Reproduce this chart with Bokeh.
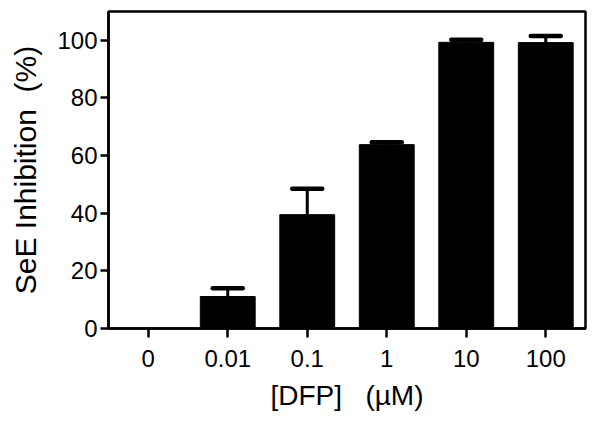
from bokeh.plotting import figure
from bokeh.models import ColumnDataSource, FactorRange, Range1d, Whisker, TeeHead, FixedTicker
from bokeh.embed import file_html
from bokeh.resources import INLINE

categories = ["0", "0.01", "0.1", "1", "10", "100"]
means = [0.0, 11.1, 39.5, 63.8, 99.3, 99.2]
upper_err = [0.0, 14.0, 48.5, 64.6, 100.2, 101.5]
y_ticks = [0, 20, 40, 60, 80, 100]

FONT = "Liberation Sans"
NB = "\u00a0"

p = figure(width=600, height=427, x_range=FactorRange(factors=categories, range_padding=0),
           y_range=Range1d(0, 110), output_backend="svg", toolbar_location=None,
           min_border_left=108, min_border_right=15, min_border_top=11, min_border_bottom=99)

src = ColumnDataSource(dict(x=categories, top=means))
p.vbar(x="x", top="top", width=0.69, source=src, fill_color="black", line_color="black")

err_src = ColumnDataSource(dict(
    x=[c for c, m in zip(categories, means) if m > 0],
    lower=[m for m in means if m > 0],
    upper=[u for u, m in zip(upper_err, means) if m > 0],
))
w = Whisker(source=err_src, base="x", lower="lower", upper="upper",
            line_color="black", line_width=3,
            upper_head=TeeHead(size=30, line_width=4.5, line_color="black", line_cap="round"),
            lower_head=None)
p.add_layout(w)

p.xgrid.grid_line_color = None
p.ygrid.grid_line_color = None
p.outline_line_color = "black"
p.outline_line_width = 2.5

p.yaxis.ticker = FixedTicker(ticks=y_ticks)
for ax in (p.xaxis[0], p.yaxis[0]):
    ax.axis_line_width = 2.5
    ax.major_tick_line_width = 2.5
    ax.major_tick_in = 0
    ax.major_tick_out = 9
    ax.minor_tick_line_color = None
    ax.major_label_text_font = FONT
    ax.major_label_text_font_size = "24px"
    ax.major_label_text_color = "black"
    ax.axis_label_text_font = FONT
    ax.axis_label_text_font_style = "normal"
    ax.axis_label_text_color = "black"

p.xaxis.axis_label_text_font_size = "28px"
p.yaxis.axis_label_text_font_size = "30px"
p.yaxis.major_tick_out = 8
p.yaxis.major_label_standoff = 3
p.xaxis.major_label_standoff = 12
p.xaxis.axis_label = "[DFP]" + NB * 3 + "(\u00b5M)"
p.yaxis.axis_label = "SeE Inhibition" + NB * 2 + "(%)"
p.xaxis.axis_label_standoff = 10
p.yaxis.axis_label_standoff = 12

open("out.html", "w").write(file_html(p, INLINE))
